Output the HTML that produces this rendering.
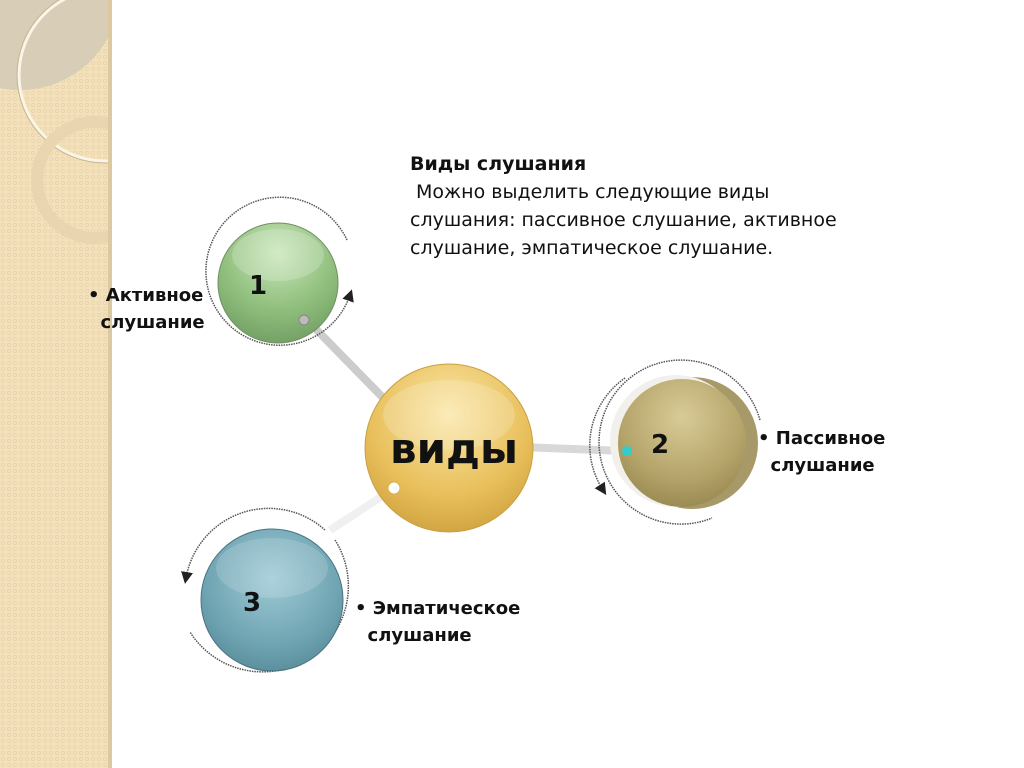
<!DOCTYPE html>
<html><head><meta charset="utf-8"><style>
body{margin:0;width:1024px;height:768px;background:#fff;overflow:hidden;position:relative;font-family:"DejaVu Sans","Liberation Sans",sans-serif}
.t{position:absolute;font-size:19px;color:#111;line-height:28px;white-space:nowrap}
.l{position:absolute;font-size:18px;color:#111;line-height:27px;font-weight:bold;white-space:nowrap}
</style></head><body>
<svg width="1024" height="768" style="position:absolute;left:0;top:0">
<defs>
<pattern id="dots" width="6" height="6" patternUnits="userSpaceOnUse"><rect width="6" height="6" fill="#f3e1bb"/><circle cx="3" cy="3" r="1.6" fill="none" stroke="#e9d3a8" stroke-width="0.7"/></pattern>
<clipPath id="sb"><rect x="0" y="0" width="112" height="768"/></clipPath>
<radialGradient id="g1" cx="0.5" cy="0.25" r="0.8"><stop offset="0" stop-color="#c8e6b8"/><stop offset="0.6" stop-color="#8fbe7c"/><stop offset="1" stop-color="#6f9c62"/></radialGradient>
<radialGradient id="gc" cx="0.5" cy="0.3" r="0.8"><stop offset="0" stop-color="#fbe7a8"/><stop offset="0.6" stop-color="#e8bf5a"/><stop offset="1" stop-color="#c99a3a"/></radialGradient>
<radialGradient id="g2" cx="0.5" cy="0.3" r="0.8"><stop offset="0" stop-color="#d9cb97"/><stop offset="0.6" stop-color="#b4a46a"/><stop offset="1" stop-color="#8f804a"/></radialGradient>
<radialGradient id="g3" cx="0.5" cy="0.35" r="0.8"><stop offset="0" stop-color="#9fcad6"/><stop offset="0.6" stop-color="#6ea3b1"/><stop offset="1" stop-color="#4e7f8c"/></radialGradient>
<marker id="ar" markerWidth="8" markerHeight="8" refX="4" refY="4" orient="auto"><path d="M0,0 L8,4 L0,8z" fill="#222"/></marker>
</defs>
<rect x="0" y="0" width="112" height="768" fill="url(#dots)"/>
<g clip-path="url(#sb)">
<circle cx="20" cy="-10" r="100" fill="#d8cdb6"/>
<circle cx="105" cy="75" r="86" fill="none" stroke="#faf5e6" stroke-width="3"/>
<circle cx="105" cy="75" r="88" fill="none" stroke="#c7b593" stroke-width="1"/>
<circle cx="95" cy="180" r="58" fill="none" stroke="#e9d6b0" stroke-width="12"/>
</g>
<rect x="108" y="0" width="4" height="768" fill="#dcc9a2"/>
<line x1="305" y1="318" x2="395" y2="410" stroke="#ccc" stroke-width="8" stroke-linecap="round"/>
<line x1="520" y1="447" x2="625" y2="451" stroke="#d8d8d8" stroke-width="8"/>
<line x1="395" y1="488" x2="330" y2="530" stroke="#f0f0f0" stroke-width="8"/>
<path d="M 347 240 A 74 74 0 1 0 350 295" fill="none" stroke="#555" stroke-width="1.5" stroke-dasharray="1.5 1" marker-end="url(#ar)"/>
<circle cx="278" cy="283" r="60" fill="url(#g1)" stroke="#6f8f62" stroke-width="1"/>
<ellipse cx="278" cy="255" rx="46" ry="26" fill="#fff" opacity="0.2"/>
<circle cx="304" cy="320" r="5" fill="#bbb" stroke="#888"/>
<circle cx="449" cy="448" r="84" fill="url(#gc)" stroke="#c9a040" stroke-width="1"/>
<ellipse cx="449" cy="415" rx="66" ry="35" fill="#fff" opacity="0.18"/>
<circle cx="394" cy="488" r="6" fill="#fff" stroke="#d9b050"/>
<path d="M 760 420 A 82 82 0 1 0 712 518" fill="none" stroke="#555" stroke-width="1.5" stroke-dasharray="1.5 1"/>
<path d="M 625 378 A 82 82 0 0 0 603 490" fill="none" stroke="#555" stroke-width="1.5" stroke-dasharray="1.5 1" marker-end="url(#ar)"/>
<circle cx="692" cy="443" r="66" fill="#a89a68"/>
<circle cx="676" cy="441" r="66" fill="#f2f0ea"/>
<circle cx="682" cy="443" r="64" fill="url(#g2)"/>
<circle cx="627" cy="451" r="5" fill="#3cc"/>
<path d="M 325 530 A 84 84 0 0 0 186 578" fill="none" stroke="#555" stroke-width="1.5" stroke-dasharray="1.5 1" marker-end="url(#ar)"/>
<path d="M 335 540 A 84 84 0 0 1 190 632" fill="none" stroke="#555" stroke-width="1.5" stroke-dasharray="1.5 1"/>
<circle cx="272" cy="600" r="71" fill="url(#g3)" stroke="#4a7380" stroke-width="1"/>
<ellipse cx="272" cy="568" rx="56" ry="30" fill="#fff" opacity="0.15"/>
<g font-family="DejaVu Sans,Liberation Sans,sans-serif" font-weight="bold" fill="#111">
<text x="258" y="294" font-size="26" text-anchor="middle">1</text>
<text x="454" y="463" font-size="42" text-anchor="middle">виды</text>
<text x="660" y="453" font-size="26" text-anchor="middle">2</text>
<text x="252" y="611" font-size="26" text-anchor="middle">3</text>
</g>
</svg>
<div class="t" style="left:410px;top:150px"><b>Виды слушания</b><br>&nbsp;Можно выделить следующие виды<br>слушания: пассивное слушание, активное<br>слушание, эмпатическое слушание.</div>
<div class="l" style="left:88px;top:282px">• Активное<br>&nbsp;&nbsp;слушание</div>
<div class="l" style="left:758px;top:425px">• Пассивное<br>&nbsp;&nbsp;слушание</div>
<div class="l" style="left:355px;top:595px">• Эмпатическое<br>&nbsp;&nbsp;слушание</div>
</body></html>
